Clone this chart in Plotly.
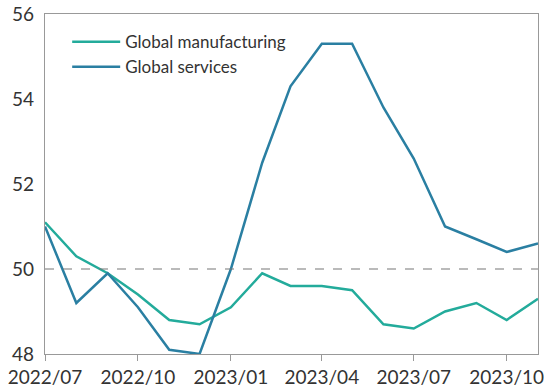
import plotly.graph_objects as go

months = ["2022-07-01","2022-08-01","2022-09-01","2022-10-01","2022-11-01","2022-12-01",
          "2023-01-01","2023-02-01","2023-03-01","2023-04-01","2023-05-01","2023-06-01",
          "2023-07-01","2023-08-01","2023-09-01","2023-10-01","2023-11-01"]
manufacturing = [51.1, 50.3, 49.9, 49.4, 48.8, 48.7, 49.1, 49.9, 49.6, 49.6, 49.5, 48.7,
                 48.6, 49.0, 49.2, 48.8, 49.3]
services = [51.0, 49.2, 49.9, 49.1, 48.1, 48.0, 50.0, 52.5, 54.3, 55.3, 55.3, 53.8,
            52.6, 51.0, 50.7, 50.4, 50.6]
tick_vals = ["2022-07-01","2022-10-01","2023-01-01","2023-04-01","2023-07-01","2023-10-01"]
tick_text = ["2022/07","2022/10","2023/01","2023/04","2023/07","2023/10"]
y_ticks = [48, 50, 52, 54, 56]

FONT = "Lato"
fig = go.Figure()
fig.add_trace(go.Scatter(x=months, y=manufacturing, mode="lines", name="Global manufacturing",
                         line=dict(color="#23ab9b", width=2.5)))
fig.add_trace(go.Scatter(x=months, y=services, mode="lines", name="Global services",
                         line=dict(color="#2a7fa2", width=2.5)))
fig.add_hline(y=50, line=dict(color="#777777", width=1.2, dash="dash"))

fig.update_layout(
    width=544, height=392,
    margin=dict(l=45, r=6, t=14, b=38, autoexpand=False),
    plot_bgcolor="white", paper_bgcolor="white",
    font=dict(family=FONT, size=19, color="#333333"),
    showlegend=True,
    legend=dict(x=0.045, y=0.97, xanchor="left", yanchor="top", bgcolor="rgba(0,0,0,0)",
                font=dict(size=17, color="#333333"), tracegroupgap=0, itemwidth=48),
)
fig.update_xaxes(
    range=["2022-07-01", "2023-11-01"], tickvals=tick_vals, ticktext=tick_text,
    showgrid=False, showline=True, linecolor="#999999", linewidth=1.2, mirror=True,
    ticks="outside", ticklen=6, tickcolor="#999999", tickfont=dict(size=19), zeroline=False,
    automargin=False, ticklabeloverflow="allow",
)
fig.update_yaxes(
    range=[48, 56], tickvals=y_ticks, showgrid=False, showline=True, linecolor="#999999",
    linewidth=1.2, mirror=True, ticks="", tickfont=dict(size=19), zeroline=False, ticklabelstandoff=6,
    automargin=False,
)
fig.write_html("out.html")
